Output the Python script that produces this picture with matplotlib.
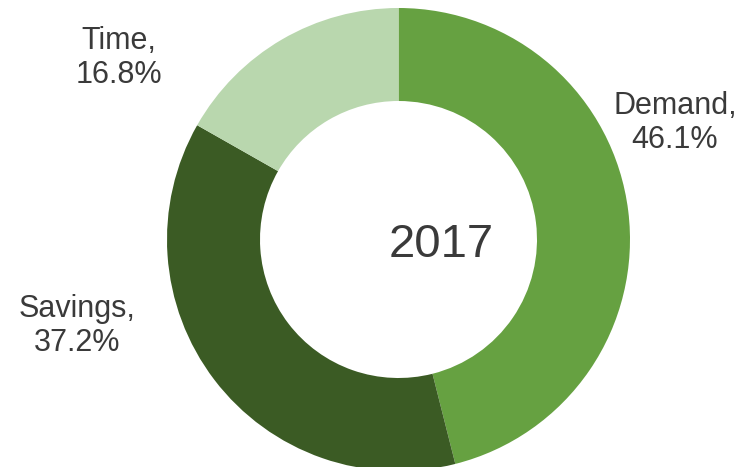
import numpy as np
import matplotlib.pyplot as plt

plt.rcParams['font.family'] = ['Liberation Sans', 'DejaVu Sans']

categories = ['Demand', 'Savings', 'Time']
shares = [46.1, 37.2, 16.8]
year_label = '2017'

colors = ['#66a141', '#3b5b24', '#b9d7ae']
text_color = '#3a3a3a'

W, H = 743, 467

def px(x, y):
    # pixel coords (origin top-left) -> axes data coords
    return x, H - y

fig = plt.figure(figsize=(W / 100, H / 100), dpi=100)
ax = fig.add_axes([0, 0, 1, 1])
ax.set_xlim(0, W)
ax.set_ylim(0, H)
ax.set_aspect('equal')
ax.axis('off')

cx, cy = px(398.5, 239.5)
radius = 231.5
ax.pie(shares, colors=colors, startangle=90, counterclock=False,
       center=(cx, cy), radius=radius, frame=True,
       wedgeprops=dict(width=radius - 138.5, linewidth=0))
ax.set_xlim(0, W)
ax.set_ylim(0, H)
ax.axis('off')

label_pos = {'Demand': (675, 123), 'Savings': (77, 326), 'Time': (119, 58)}
for name, val in zip(categories, shares):
    x, y = px(*label_pos[name])
    ax.text(x, y, f'{name},\n{val:.1f}%', ha='center', va='center',
            fontsize=22, color=text_color, linespacing=1.15)

x, y = px(441, 245)
ax.text(x, y, year_label, ha='center', va='center', fontsize=34, color=text_color)

fig.savefig('out.png', dpi=100)
